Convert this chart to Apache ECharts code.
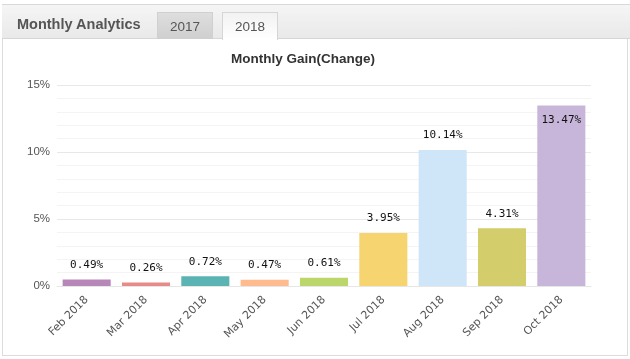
<!DOCTYPE html>
<html>
<head>
<meta charset="utf-8">
<script src="https://cdn.jsdelivr.net/npm/echarts@6/dist/echarts.min.js"></script>
<style>
  html, body { margin:0; padding:0; background:#fff; width:630px; height:359px; overflow:hidden; }
  #panel { position:absolute; left:2px; top:4px; width:626px; height:352px; border:1px solid #dcdcdc; box-sizing:border-box; }
  #head { position:absolute; left:2px; top:4px; width:628px; height:35px; border-top:1px solid #d9d9d9; border-bottom:1px solid #d6d6d6; box-sizing:border-box;
          background:linear-gradient(#f5f5f5,#e9e9e9); }
  #htitle { position:absolute; left:17px; top:16px; font:bold 14.5px "Liberation Sans", sans-serif; color:#555; }
  .tab { position:absolute; top:12px; width:56px; height:27px; box-sizing:border-box; text-align:center; font:13.5px "Liberation Sans", sans-serif; color:#555; line-height:28px; }
  #t17 { left:157px; background:linear-gradient(#dedede,#cfcfcf); border:1px solid #d0d0d0; border-bottom:none; }
  #t18 { left:222px; background:linear-gradient(#f2f2f2,#ffffff); border:1px solid #d6d6d6; border-bottom:none; height:28px; }
  #chart { position:absolute; left:0; top:0; width:630px; height:359px; }
</style>
</head>
<body>
<div id="panel"></div>
<div id="chart"></div>
<div id="head"></div>
<div id="htitle">Monthly Analytics</div>
<div class="tab" id="t17">2017</div>
<div class="tab" id="t18">2018</div>
<script>
const categories = ['Feb 2018','Mar 2018','Apr 2018','May 2018','Jun 2018','Jul 2018','Aug 2018','Sep 2018','Oct 2018'];
const gains = [0.49, 0.26, 0.72, 0.47, 0.61, 3.95, 10.14, 4.31, 13.47];
const barColors = ['#b687b8','#e88a88','#5bb3b4','#ffbb8e','#bbd76c','#f6d470','#cfe5f8','#d3cd6b','#c7b6d9'];
const yTicks = [0, 5, 10, 15];
const chartTitle = 'Monthly Gain(Change)';

const chart = echarts.init(document.getElementById('chart'), null, {renderer:'canvas'});
chart.setOption({
  animation:false,
  title:{ text:chartTitle, left:226, top:47, textStyle:{ fontFamily:'Liberation Sans', fontSize:13.5, fontWeight:'bold', color:'#333' } },
  grid:{ left:57, right:39, top:85, bottom:73, containLabel:false },
  xAxis:{ type:'category', data:categories,
    axisLine:{ lineStyle:{ color:'#e6e6e6' } }, axisTick:{ show:false },
    axisLabel:{ rotate:45, interval:0, margin:12, color:'#555', fontFamily:'DejaVu Sans', fontSize:11 } },
  yAxis:{ type:'value', min:yTicks[0], max:yTicks[yTicks.length-1], interval:5,
    axisLine:{ show:false }, axisTick:{ show:false },
    axisLabel:{ formatter:'{value}%', color:'#555', fontFamily:'Liberation Sans', fontSize:11.5, margin:7 },
    splitLine:{ lineStyle:{ color:'#e8e8e8', width:1 } },
    minorTick:{ show:false, splitNumber:5 },
    minorSplitLine:{ show:true, lineStyle:{ color:'#f4f4f4', width:1 } } },
  series:[{ type:'bar', barWidth:'81%',
    data: gains.map((v,i)=>({ value:v, itemStyle:{ color:barColors[i] },
      label: i===gains.length-1 ? { position:'insideTop', distance:9 } : {} })),
    label:{ show:true, position:'top', distance:9, formatter:p=>p.value.toFixed(2)+'%',
      color:'#111', fontFamily:'DejaVu Sans Mono', fontSize:11 } }]
});
</script>
</body>
</html>
